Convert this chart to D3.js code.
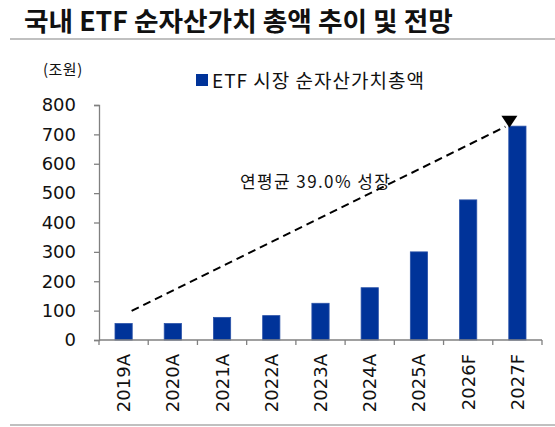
<!DOCTYPE html>
<html>
<head>
<meta charset="utf-8">
<script src="https://cdn.jsdelivr.net/npm/d3@7"></script>
<style>
  body { margin: 0; background: #fff; }
  text { fill: #111; }
</style>
</head>
<body>
<script>
// data
var categories = ["2019A", "2020A", "2021A", "2022A", "2023A", "2024A", "2025A", "2026F", "2027F"];
var aumValues = [56, 56, 77, 83, 125, 178, 300, 477, 728];
var yTicks = [0, 100, 200, 300, 400, 500, 600, 700, 800];
var trendFrom = ["2019A", 99];
var trendTo = ["2027F", 733];

var svgWidth = 555;
var svgHeight = 427;

var margin = {
  top: 105,
  right: 13,
  bottom: 87,
  left: 99
};

var width = svgWidth - margin.left - margin.right;
var height = svgHeight - margin.top - margin.bottom;

var svg = d3.select("body")
  .append("svg")
  .attr("width", svgWidth)
  .attr("height", svgHeight);

// title + rules
svg.append("text")
  .attr("x", 24)
  .attr("y", 31)
  .style("font-family", "'Noto Sans CJK KR', sans-serif")
  .style("font-weight", "bold")
  .style("font-size", "26.7px")
  .text("국내 ETF 순자산가치 총액 추이 및 전망");

svg.append("line")
  .attr("x1", 10).attr("x2", svgWidth)
  .attr("y1", 39).attr("y2", 39)
  .attr("stroke", "#c0c0c0")
  .attr("stroke-width", 2);

svg.append("line")
  .attr("x1", 10).attr("x2", svgWidth)
  .attr("y1", 425).attr("y2", 425)
  .attr("stroke", "#c0c0c0")
  .attr("stroke-width", 2);

svg.append("text")
  .attr("x", 43)
  .attr("y", 75)
  .style("font-family", "'Noto Sans CJK KR', sans-serif")
  .style("font-size", "15px")
  .style("letter-spacing", "0.5px")
  .text("(조원)");

// legend
svg.append("rect")
  .attr("x", 196).attr("y", 74)
  .attr("width", 12).attr("height", 12)
  .attr("fill", "#003399");

svg.append("text")
  .attr("x", 212)
  .attr("y", 88)
  .style("font-family", "'Noto Sans CJK KR', sans-serif")
  .style("font-size", "19px")
  .style("letter-spacing", "1px")
  .text("ETF 시장 순자산가치총액");

var chart = svg.append("g")
  .attr("transform", "translate(" + margin.left + "," + margin.top + ")");

var x = d3.scaleBand()
  .domain(categories)
  .range([0, width])
  .paddingInner(0.65)
  .paddingOuter(0.325);

var y = d3.scaleLinear()
  .domain([0, 800])
  .range([height, 0]);

// bars
chart.append("g")
  .selectAll("rect")
  .data(aumValues)
  .enter()
  .append("rect")
  .attr("x", function(d, i) { return x(categories[i]); })
  .attr("y", function(d) { return y(d); })
  .attr("width", x.bandwidth())
  .attr("height", function(d) { return height - y(d); })
  .attr("fill", "#003399")
  .attr("stroke", "#2a52a8")
  .attr("stroke-width", 0.8);

// y axis
var yAxis = chart.append("g")
  .call(d3.axisLeft(y).tickValues(yTicks).tickSize(5).tickPadding(18));
yAxis.select(".domain").attr("stroke", "#808080").attr("stroke-width", 1.3);
yAxis.selectAll(".tick line").attr("stroke", "#808080").attr("stroke-width", 1.3);
yAxis.selectAll("text")
  .style("font-family", "'DejaVu Sans', sans-serif")
  .style("font-size", "18px")
  .attr("fill", "#111");

// x axis with ticks on category boundaries
var step = x.step();
var xAxis = chart.append("g").attr("transform", "translate(0," + height + ")");
xAxis.append("line")
  .attr("x1", 0).attr("x2", width)
  .attr("stroke", "#808080").attr("stroke-width", 1.3);
xAxis.selectAll(".bound")
  .data(d3.range(categories.length + 1))
  .enter()
  .append("line")
  .attr("x1", function(d) { return d * step; })
  .attr("x2", function(d) { return d * step; })
  .attr("y1", 0).attr("y2", 5)
  .attr("stroke", "#808080").attr("stroke-width", 1.3);
xAxis.selectAll(".lbl")
  .data(categories)
  .enter()
  .append("text")
  .attr("transform", function(d) {
    return "translate(" + (x(d) + x.bandwidth() / 2) + ",14) rotate(-90)";
  })
  .attr("text-anchor", "end")
  .attr("dy", "0.36em")
  .style("font-family", "'DejaVu Sans', sans-serif")
  .style("font-size", "18px")
  .text(function(d) { return d; });

// trend arrow
var x1 = x(trendFrom[0]) + x.bandwidth() / 2 + 8;
var y1 = y(trendFrom[1]);
var x2 = x(trendTo[0]) + x.bandwidth() / 2 - 8;
var y2 = y(trendTo[1]);

chart.append("line")
  .attr("x1", x1).attr("y1", y1)
  .attr("x2", x2 - 4).attr("y2", y2 + 2)
  .attr("stroke", "#000")
  .attr("stroke-width", 2)
  .attr("stroke-dasharray", "8,5");

chart.append("path")
  .attr("d", "M" + (x2 - 8) + "," + (y2 - 9) + "L" + (x2 + 8) + "," + (y2 - 9) + "L" + x2 + "," + (y2 + 3) + "Z")
  .attr("fill", "#000");

chart.append("text")
  .attr("x", 240 - margin.left)
  .attr("y", 188 - margin.top)
  .style("font-family", "'Noto Sans CJK KR', sans-serif")
  .style("font-size", "17px")
  .style("letter-spacing", "1.4px")
  .text("연평균 39.0% 성장");
</script>
</body>
</html>
